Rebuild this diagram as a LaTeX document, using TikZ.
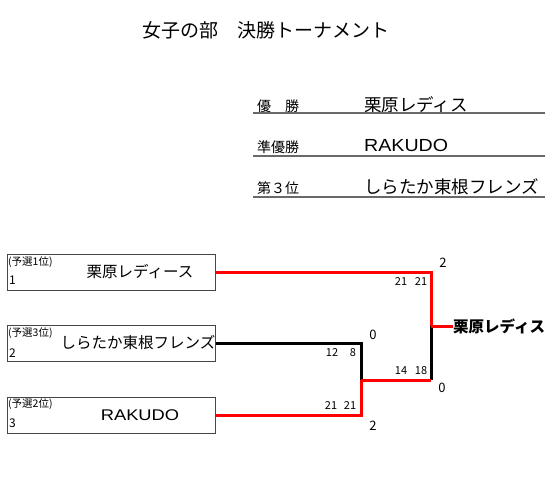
\documentclass[tikz,border=0pt]{standalone}
\usepackage{fontspec}
\setmainfont{Noto Sans CJK JP}
\newfontfamily\latinfont{Liberation Sans}
\usetikzlibrary{positioning}

\begin{document}
\begin{tikzpicture}[x=1pt, y=-1pt, every node/.style={inner sep=0pt}]
    % 配色
    \definecolor{winred}{RGB}{255,0,0}
    \definecolor{boxgray}{RGB}{70,70,70}
    \definecolor{rulegray}{RGB}{105,105,105}

    % スタイル
    \tikzstyle{team} = [rectangle, draw=boxgray, line width=1pt, minimum width=208pt, minimum height=36pt]
    \tikzstyle{seed} = [font=\fontsize{10.5}{11}\selectfont, anchor=west]
    \tikzstyle{num} = [font=\fontsize{12}{12}\selectfont, anchor=west]
    \tikzstyle{tname} = [font=\fontsize{15.5}{16}\selectfont]
    \tikzstyle{score} = [font=\fontsize{11}{11}\selectfont]
    \tikzstyle{sets} = [font=\fontsize{13}{13}\selectfont]
    \tikzstyle{rank} = [font=\fontsize{14}{14}\selectfont, anchor=west]
    \tikzstyle{rname} = [font=\fontsize{17.5}{18}\selectfont, anchor=west]
    \tikzstyle{win} = [line width=3pt, winred]
    \tikzstyle{lose} = [line width=3pt, black]

    \useasboundingbox (0,0) rectangle (560,492);

    % タイトル
    \node[font=\fontsize{19}{20}\selectfont] (title) at (266,30) {女子の部　決勝トーナメント};

    % 結果
    \node[rank] (r1) at (257,106) {優　勝};
    \node[rname] (n1) at (364,105) {栗原レディス};
    \node[rank] (r2) at (257,147) {準優勝};
    \node[rname] (n2) at (364,145) {\latinfont\scalebox{1.12}[1]{RAKUDO}};
    \node[rank] (r3) at (257,188) {第３位};
    \node[rname] (n3) at (364,187) {しらたか東根フレンズ};
    \draw[rulegray, line width=1.2pt] (253,113) -- (545,113);
    \draw[rulegray, line width=1.2pt] (253,156) -- (545,156);
    \draw[rulegray, line width=1.2pt] (253,197) -- (545,197);

    % チーム
    \node[team] (t1) at (111,272) {};
    \node[seed] at (8,262) {(予選1位)};
    \node[num] at (9,280) {1};
    \node[tname] (a1) at (140,272) {栗原レディース};

    \node[team] (t2) at (111,343.5) {};
    \node[seed] at (8,333) {(予選3位)};
    \node[num] at (9,353) {2};
    \node[tname] (a2) at (138,343) {しらたか東根フレンズ};

    \node[team] (t3) at (111,415) {};
    \node[seed] at (8,404) {(予選2位)};
    \node[num] at (9,423) {3};
    \node[tname] (a3) at (140,415) {\latinfont\scalebox{1.18}[1]{RAKUDO}};

    % 勝者
    \node[font=\fontsize{15.5}{16}\selectfont\bfseries, anchor=west] (champ) at (453,326) {栗原レディス};

    % 分岐点
    \coordinate (semi) at (361,380);
    \coordinate (fin) at (431,326);
    \coordinate (turn) at (431,380);

    % 線
    \draw[lose] (t2.east) -| (semi);
    \draw[win] (t3.east) -| (semi);
    \draw[win] (t1.east) -| (fin);
    \draw[lose] (turn) -- (fin);
    \draw[win] (semi) -- (turn);
    \draw[win] (fin) -- (champ.west);

    % スコア
    \node[sets] (s1) at (443,263) {2};
    \node[score] at (401,282) {21};
    \node[score] at (421,282) {21};
    \node[sets] (s2) at (373,335) {0};
    \node[score] at (332,353) {12};
    \node[score] at (353,353) {8};
    \node[score] at (401,371) {14};
    \node[score] at (421,371) {18};
    \node[sets] (s3) at (442,388) {0};
    \node[score] at (331,406) {21};
    \node[score] at (350,406) {21};
    \node[sets] (s4) at (373,426) {2};
\end{tikzpicture}
\end{document}
